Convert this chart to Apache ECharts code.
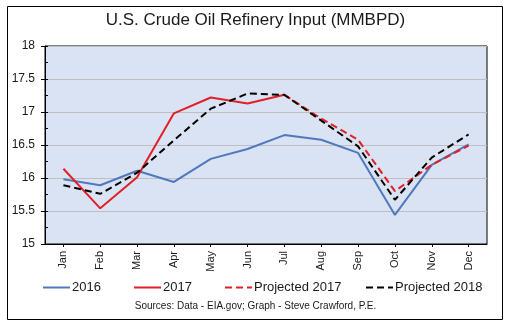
<!DOCTYPE html>
<html>
<head>
<meta charset="utf-8">
<script src="https://cdn.jsdelivr.net/npm/echarts@6/dist/echarts.min.js"></script>
<style>
html,body{margin:0;padding:0;background:#fff;}
#c{width:511px;height:329px;}
</style>
</head>
<body>
<div id="c"></div>
<script>
var months = ['Jan','Feb','Mar','Apr','May','Jun','Jul','Aug','Sep','Oct','Nov','Dec'];
var yTicks = [15, 15.5, 16, 16.5, 17, 17.5, 18];
var s2016 = [15.98, 15.89, 16.11, 15.94, 16.29, 16.44, 16.65, 16.58, 16.38, 15.44, 16.20, 16.51];
var s2017 = [16.14, 15.54, 16.01, 16.98, 17.22, 17.13, 17.26, null, null, null, null, null];
var proj2017 = [null, null, null, null, null, null, 17.26, 16.90, 16.58, 15.80, 16.20, 16.49];
var proj2018 = [15.89, 15.76, 16.08, 16.57, 17.05, 17.28, 17.26, 16.87, 16.48, 15.67, 16.31, 16.66];

var FONT = '"Liberation Sans", Arial, sans-serif';
var TXT = '#1a1a1a';
var chart = echarts.init(document.getElementById('c'), null, {renderer:'canvas'});

function leg(name, left){
  return {
    data:[name], left:left, top:281, itemWidth:27, itemHeight:14, padding:0, itemGap:0,
    itemStyle:{opacity:0, borderWidth:0},
    textStyle:{fontFamily:FONT, fontSize:13, color:TXT, padding:[0,0,0,-3]},
    selectedMode:false
  };
}

chart.setOption({
  animation:false,
  backgroundColor:'#fff',
  textStyle:{fontFamily:FONT},
  title:[{
    text:'U.S. Crude Oil Refinery Input (MMBPD)',
    left:'center', top:12, padding:0,
    textStyle:{fontFamily:FONT, fontSize:17, fontWeight:'normal', color:TXT}
  },{
    text:'Sources: Data - EIA.gov; Graph - Steve Crawford, P.E.',
    left:'center', top:301, padding:0,
    textStyle:{fontFamily:FONT, fontSize:10, fontWeight:'normal', color:TXT}
  }],
  legend:[leg('2016',42), leg('2017',133), leg('Projected 2017',224), leg('Projected 2018',365)],
  grid:{left:45, right:24, top:46, bottom:85, show:true, backgroundColor:'#dae3f3', borderColor:'#000', borderWidth:1},
  xAxis:{
    type:'category', data:months, boundaryGap:true,
    axisLine:{lineStyle:{color:'#000', width:1}},
    axisTick:{show:true, alignWithLabel:true, length:3, lineStyle:{color:'#000'}},
    axisLabel:{rotate:90, margin:7, fontFamily:FONT, fontSize:11, color:TXT},
    splitLine:{show:false}
  },
  yAxis:[{
    type:'value', min:yTicks[0], max:yTicks[yTicks.length-1], interval:0.5,
    axisLine:{show:true, lineStyle:{color:'#000', width:1}},
    axisTick:{show:true, length:4, lineStyle:{color:'#000'}},
    axisLabel:{margin:10, fontFamily:FONT, fontSize:12, color:TXT},
    splitLine:{show:true, lineStyle:{color:'#bfbfbf', width:1}}
  },{
    type:'value', min:yTicks[0], max:yTicks[yTicks.length-1], interval:0.25, position:'left',
    axisLine:{show:false},
    axisTick:{show:true, inside:true, length:3, lineStyle:{color:'#000'}},
    axisLabel:{show:false},
    splitLine:{show:false}
  }],
  series:[
    {name:'2016', type:'line', data:s2016, symbol:'none', lineStyle:{color:'#4f78bd', width:2}, itemStyle:{color:'#4f78bd'}},
    {name:'2017', type:'line', data:s2017, symbol:'none', lineStyle:{color:'#e21f26', width:2}, itemStyle:{color:'#e21f26'}},
    {name:'Projected 2017', type:'line', data:proj2017, symbol:'none', lineStyle:{color:'#e21f26', width:2, type:[7,4]}, itemStyle:{color:'#e21f26'}},
    {name:'Projected 2018', type:'line', data:proj2018, symbol:'none', lineStyle:{color:'#000', width:2, type:[7,4]}, itemStyle:{color:'#000'}}
  ],
  graphic:[{
    type:'rect', shape:{x:7.5, y:6.5, width:495, height:313}, silent:true,
    style:{fill:null, stroke:'#000', lineWidth:1}
  }]
});
</script>
</body>
</html>
